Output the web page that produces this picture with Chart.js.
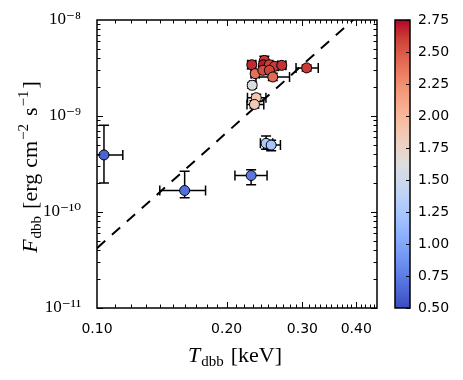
<!DOCTYPE html>
<html><head><meta charset="utf-8">
<script src="https://cdn.jsdelivr.net/npm/chart.js@4/dist/chart.umd.min.js"></script>
<style>html,body{margin:0;padding:0;background:#fff}canvas{display:block}</style>
</head><body>
<canvas id="c" width="463" height="380"></canvas>
<script>
// ---- data ----
const temperatures = [0.1038, 0.1598, 0.228, 0.247, 0.2538, 0.2293, 0.2343, 0.2321, 0.3068,
  0.2288, 0.2447, 0.2435, 0.2514, 0.2583, 0.2686, 0.2330, 0.2427, 0.2514, 0.2560];
const fluxes = [3.93e-10, 1.675e-10, 2.40e-10, 5.19e-10, 4.98e-10, 2.09e-9, 1.55e-9, 1.32e-9, 3.17e-9,
  3.42e-9, 3.79e-9, 3.42e-9, 3.42e-9, 3.29e-9, 3.37e-9, 2.76e-9, 2.99e-9, 2.99e-9, 2.55e-9];
const colourValues = [0.62, 0.68, 0.72, 1.28, 1.22, 1.62, 1.88, 1.85, 2.62,
  2.66, 2.62, 2.70, 2.60, 2.62, 2.64, 2.40, 2.55, 2.58, 2.42];
const tempLow  = [0.0928, 0.1399, 0.2091, 0.2396, 0.2440, 0.2260, 0.2236, 0.2230, 0.2899,
  0.2240, 0.2400, 0.2390, 0.2470, 0.2530, 0.2630, 0.2280, 0.2380, 0.2460, 0.2340];
const tempHigh = [0.1148, 0.1787, 0.2483, 0.2560, 0.2667, 0.2326, 0.2468, 0.2440, 0.3265,
  0.2336, 0.2494, 0.2480, 0.2560, 0.2640, 0.2745, 0.2380, 0.2475, 0.2570, 0.2800];
const fluxLow  = [2.01e-10, 1.41e-10, 1.92e-10, 4.50e-10, 4.35e-10, 1.95e-9, 1.42e-9, 1.21e-9, 2.95e-9,
  3.10e-9, 3.40e-9, 3.15e-9, 3.15e-9, 3.00e-9, 3.10e-9, 2.55e-9, 2.75e-9, 2.75e-9, 2.35e-9];
const fluxHigh = [8.0e-10, 2.66e-10, 2.75e-10, 6.20e-10, 5.60e-10, 2.23e-9, 1.68e-9, 1.44e-9, 3.40e-9,
  3.75e-9, 4.20e-9, 3.70e-9, 3.70e-9, 3.60e-9, 3.65e-9, 2.98e-9, 3.25e-9, 3.25e-9, 2.78e-9];
const lineTemps  = [0.1, 0.45];
const lineFluxes = [4.2e-11, 1.72e-8];
const xTicks = [0.1, 0.2, 0.3, 0.4];
const xTickLabels = ['0.10', '0.20', '0.30', '0.40'];
const yTicks = [1e-11, 1e-10, 1e-9, 1e-8];
const yTickLabels = ['10\u207B\u00B9\u00B9', '10\u207B\u00B9\u2070', '10\u207B\u2079', '10\u207B\u2078'];
const cbTicks = [0.5, 0.75, 1.0, 1.25, 1.5, 1.75, 2.0, 2.25, 2.5, 2.75];
const cbTickLabels = ['0.50', '0.75', '1.00', '1.25', '1.50', '1.75', '2.00', '2.25', '2.50', '2.75'];
const cbMin = 0.5, cbMax = 2.75;

// ---- coolwarm colormap ----
const CW = [[0,59,76,192],[0.0625,77,104,215],[0.125,98,130,234],[0.1875,119,154,247],[0.25,141,176,254],
  [0.3125,163,194,255],[0.375,184,208,249],[0.4375,204,217,238],[0.5,221,221,221],[0.5625,236,211,197],
  [0.625,245,196,173],[0.6875,247,177,148],[0.75,244,154,123],[0.8125,236,127,99],[0.875,222,96,77],
  [0.9375,203,62,56],[1,180,4,38]];
function coolwarm(s){
  s = Math.max(0, Math.min(1, s));
  for (let i = 1; i < CW.length; i++){
    if (s <= CW[i][0]){
      const a = CW[i-1], b = CW[i], f = (s - a[0])/(b[0]-a[0]);
      const c = [1,2,3].map(k => Math.round(a[k] + f*(b[k]-a[k])));
      return `rgb(${c[0]},${c[1]},${c[2]})`;
    }
  }
  return 'rgb(180,4,38)';
}
const pointColours = colourValues.map(v => coolwarm((v - cbMin)/(cbMax - cbMin)));

const SERIF = '"Liberation Serif", "DejaVu Serif", serif';
const SANS = '"DejaVu Sans", sans-serif';

function drawRuns(ctx, runs, x, y){
  let w = 0;
  runs.forEach(r => { ctx.font = r.font; w += ctx.measureText(r.t).width + (r.gap||0); });
  let cx = x - w/2;
  ctx.textBaseline = 'alphabetic'; ctx.textAlign = 'left';
  runs.forEach(r => { ctx.font = r.font; ctx.fillText(r.t, cx, y + (r.dy||0)); cx += ctx.measureText(r.t).width + (r.gap||0); });
}

const errorBars = {
  id: 'errorBars',
  beforeDatasetDraw(chart, args){
    if (args.index !== 1) return;
    const {ctx, chartArea: a, scales: {x, y}} = chart;
    ctx.save();
    ctx.beginPath(); ctx.rect(a.left, a.top, a.right - a.left, a.bottom - a.top); ctx.clip();
    ctx.strokeStyle = '#000'; ctx.lineWidth = 1.5;
    const cap = 5;
    temperatures.forEach((t, i) => {
      const px = x.getPixelForValue(t), py = y.getPixelForValue(fluxes[i]);
      const xl = x.getPixelForValue(tempLow[i]), xh = x.getPixelForValue(tempHigh[i]);
      const yl = y.getPixelForValue(fluxLow[i]), yh = y.getPixelForValue(fluxHigh[i]);
      ctx.beginPath();
      ctx.moveTo(xl, py); ctx.lineTo(xh, py);
      ctx.moveTo(xl, py - cap); ctx.lineTo(xl, py + cap);
      ctx.moveTo(xh, py - cap); ctx.lineTo(xh, py + cap);
      ctx.moveTo(px, yl); ctx.lineTo(px, yh);
      ctx.moveTo(px - cap, yl); ctx.lineTo(px + cap, yl);
      ctx.moveTo(px - cap, yh); ctx.lineTo(px + cap, yh);
      ctx.stroke();
    });
    ctx.restore();
  }
};

const frame = {
  id: 'frame',
  afterDraw(chart){
    const {ctx, chartArea: a, scales: {x, y, cb}} = chart;
    ctx.save();
    ctx.strokeStyle = '#000';
    ctx.lineWidth = 1;
    const majL = 6, minL = 3.5;
    ctx.beginPath();
    for (let v = 0.11; v < 0.447; v += 0.01){
      const r = Math.round(v*100)/100;
      const isMaj = Math.abs(r*10 - Math.round(r*10)) < 1e-9;
      const px = Math.round(x.getPixelForValue(r)) + 0.5;
      const L = isMaj ? majL : minL;
      ctx.moveTo(px, a.bottom); ctx.lineTo(px, a.bottom - L);
      ctx.moveTo(px, a.top); ctx.lineTo(px, a.top + L);
    }
    for (let e = -11; e < -8; e++){
      for (let m = 1; m <= 9; m++){
        const py = Math.round(y.getPixelForValue(m * Math.pow(10, e))) + 0.5;
        const L = m === 1 ? majL : minL;
        ctx.moveTo(a.left, py); ctx.lineTo(a.left + L, py);
        ctx.moveTo(a.right, py); ctx.lineTo(a.right - L, py);
      }
    }
    ctx.stroke();
    ctx.lineWidth = 1.5;
    ctx.strokeRect(a.left, a.top, a.right - a.left, a.bottom - a.top);

    // colour bar
    const bx = 395, bw = 15;
    const top = cb.getPixelForValue(cbMax), bot = cb.getPixelForValue(cbMin);
    const g = ctx.createLinearGradient(0, bot, 0, top);
    CW.forEach(c => g.addColorStop(c[0], `rgb(${c[1]},${c[2]},${c[3]})`));
    ctx.fillStyle = g;
    ctx.fillRect(bx, top, bw, bot - top);
    ctx.lineWidth = 1;
    ctx.beginPath();
    cbTicks.forEach(v => {
      const py = Math.round(cb.getPixelForValue(v)) + 0.5;
      ctx.moveTo(bx + bw, py); ctx.lineTo(bx + bw - 4, py);
    });
    ctx.stroke();
    ctx.lineWidth = 1.5;
    ctx.strokeRect(bx, top, bw, bot - top);
    ctx.fillStyle = '#000';
    ctx.font = '14px ' + SANS;
    ctx.textAlign = 'left'; ctx.textBaseline = 'middle';
    cbTicks.forEach((v, i) => ctx.fillText(cbTickLabels[i], bx + bw + 8, cb.getPixelForValue(v)));

    // axis titles
    ctx.fillStyle = '#000';
    drawRuns(ctx, [
      {t: 'T', font: 'italic 22px ' + SERIF, gap: 1},
      {t: 'dbb', font: '15px ' + SERIF, dy: 4, gap: 7},
      {t: '[keV]', font: '22px ' + SERIF}
    ], (a.left + a.right)/2 - 2, 362);
    ctx.save();
    ctx.translate(37, (a.top + a.bottom)/2 + 3);
    ctx.rotate(-Math.PI/2);
    drawRuns(ctx, [
      {t: 'F', font: 'italic 22px ' + SERIF, gap: 1},
      {t: 'dbb', font: '15px ' + SERIF, dy: 4, gap: 7},
      {t: '[erg', font: '22px ' + SERIF, gap: 6},
      {t: 'cm', font: '22px ' + SERIF, gap: 1},
      {t: '\u22122', font: '15px ' + SERIF, dy: -9, gap: 8},
      {t: 's', font: '22px ' + SERIF, gap: 1},
      {t: '\u22121', font: '15px ' + SERIF, dy: -9, gap: 2},
      {t: ']', font: '22px ' + SERIF}
    ], 0, 0);
    ctx.restore();
    ctx.restore();
  }
};

new Chart(document.getElementById('c'), {
  data: {
    datasets: [
      {
        type: 'line',
        data: lineTemps.map((t, i) => ({x: t, y: lineFluxes[i]})),
        borderColor: '#000', borderWidth: 2, borderDash: [11, 9],
        pointRadius: 0, fill: false, order: 1
      },
      {
        type: 'scatter',
        data: temperatures.map((t, i) => ({x: t, y: fluxes[i]})),
        pointBackgroundColor: pointColours, pointBorderColor: '#000',
        pointBorderWidth: 1, pointRadius: 5, order: 0
      }
    ]
  },
  options: {
    responsive: false, animation: false, devicePixelRatio: 1,
    layout: {padding: {top: 20, right: 86, left: 0, bottom: 0}},
    plugins: {legend: {display: false}, tooltip: {enabled: false}},
    scales: {
      x: {
        type: 'logarithmic', position: 'bottom', min: 0.1, max: 0.447,
        grid: {display: false}, border: {display: false},
        afterBuildTicks: s => { s.ticks = xTicks.map(v => ({value: v})); },
        afterFit: s => { s.height = 72; },
        ticks: {color: '#000', font: {family: SANS, size: 14}, padding: 5, autoSkip: false, maxRotation: 0,
          callback: (v, i) => xTickLabels[i]}
      },
      y: {
        type: 'logarithmic', position: 'left', min: 1e-11, max: 1e-8,
        grid: {display: false}, border: {display: false},
        afterBuildTicks: s => { s.ticks = yTicks.map(v => ({value: v})); },
        afterFit: s => { s.width = 97; },
        ticks: {color: '#000', font: {family: SERIF, size: 17}, padding: 8, autoSkip: false,
          callback: (v, i) => yTickLabels[i]}
      },
      cb: {type: 'linear', position: 'right', display: false, min: cbMin, max: cbMax}
    }
  },
  plugins: [errorBars, frame]
});
</script>
</body></html>
